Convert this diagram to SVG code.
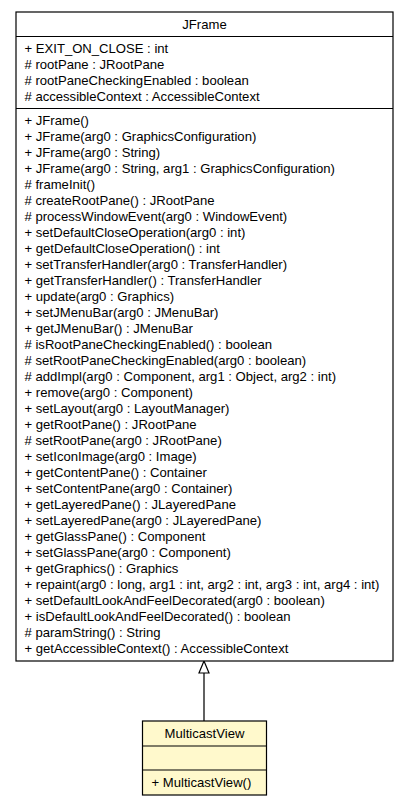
<svg xmlns="http://www.w3.org/2000/svg" width="408" height="805" viewBox="0 0 408 805">
<style>
text{font-family:"Liberation Sans",Arial,Helvetica,sans-serif;font-size:13.1px;fill:#000}
.c{text-anchor:middle}
.box{stroke:#000;stroke-width:1.2}
.sep{stroke:#000;stroke-width:1.2}
.edge{stroke:#3a3a3a;stroke-width:1.6;fill:none}
</style>
<rect width="408" height="805" fill="#fff"/>
<g id="connectors">
<line class="edge" x1="204" y1="721" x2="204" y2="673"/>
<polygon points="204,661 199,673 209,673" fill="#fff" stroke="#000" stroke-width="1.2"/>
</g>
<g id="JFrame">
<rect class="box" x="16" y="12" width="377" height="649" fill="#fff"/>
<line class="sep" x1="16" y1="36.5" x2="393" y2="36.5"/>
<line class="sep" x1="16" y1="108.5" x2="393" y2="108.5"/>
<text class="c" x="204.5" y="28.8">JFrame</text>
<text x="24.5" y="52.8">+ EXIT_ON_CLOSE : int</text>
<text x="24.5" y="68.8"># rootPane : JRootPane</text>
<text x="24.5" y="84.8"># rootPaneCheckingEnabled : boolean</text>
<text x="24.5" y="100.8"># accessibleContext : AccessibleContext</text>
<text x="24.5" y="124.8">+ JFrame()</text>
<text x="24.5" y="140.8">+ JFrame(arg0 : GraphicsConfiguration)</text>
<text x="24.5" y="156.8">+ JFrame(arg0 : String)</text>
<text x="24.5" y="172.8">+ JFrame(arg0 : String, arg1 : GraphicsConfiguration)</text>
<text x="24.5" y="188.8"># frameInit()</text>
<text x="24.5" y="204.8"># createRootPane() : JRootPane</text>
<text x="24.5" y="220.8"># processWindowEvent(arg0 : WindowEvent)</text>
<text x="24.5" y="236.8">+ setDefaultCloseOperation(arg0 : int)</text>
<text x="24.5" y="252.8">+ getDefaultCloseOperation() : int</text>
<text x="24.5" y="268.8">+ setTransferHandler(arg0 : TransferHandler)</text>
<text x="24.5" y="284.8">+ getTransferHandler() : TransferHandler</text>
<text x="24.5" y="300.8">+ update(arg0 : Graphics)</text>
<text x="24.5" y="316.8">+ setJMenuBar(arg0 : JMenuBar)</text>
<text x="24.5" y="332.8">+ getJMenuBar() : JMenuBar</text>
<text x="24.5" y="348.8"># isRootPaneCheckingEnabled() : boolean</text>
<text x="24.5" y="364.8"># setRootPaneCheckingEnabled(arg0 : boolean)</text>
<text x="24.5" y="380.8"># addImpl(arg0 : Component, arg1 : Object, arg2 : int)</text>
<text x="24.5" y="396.8">+ remove(arg0 : Component)</text>
<text x="24.5" y="412.8">+ setLayout(arg0 : LayoutManager)</text>
<text x="24.5" y="428.8">+ getRootPane() : JRootPane</text>
<text x="24.5" y="444.8"># setRootPane(arg0 : JRootPane)</text>
<text x="24.5" y="460.8">+ setIconImage(arg0 : Image)</text>
<text x="24.5" y="476.8">+ getContentPane() : Container</text>
<text x="24.5" y="492.8">+ setContentPane(arg0 : Container)</text>
<text x="24.5" y="508.8">+ getLayeredPane() : JLayeredPane</text>
<text x="24.5" y="524.8">+ setLayeredPane(arg0 : JLayeredPane)</text>
<text x="24.5" y="540.8">+ getGlassPane() : Component</text>
<text x="24.5" y="556.8">+ setGlassPane(arg0 : Component)</text>
<text x="24.5" y="572.8">+ getGraphics() : Graphics</text>
<text x="24.5" y="588.8">+ repaint(arg0 : long, arg1 : int, arg2 : int, arg3 : int, arg4 : int)</text>
<text x="24.5" y="604.8">+ setDefaultLookAndFeelDecorated(arg0 : boolean)</text>
<text x="24.5" y="620.8">+ isDefaultLookAndFeelDecorated() : boolean</text>
<text x="24.5" y="636.8"># paramString() : String</text>
<text x="24.5" y="652.8">+ getAccessibleContext() : AccessibleContext</text>
</g>
<g id="MulticastView">
<rect class="box" x="142.5" y="721" width="124" height="74" fill="#fff9cc"/>
<line class="sep" x1="142.5" y1="746" x2="266.5" y2="746"/>
<line class="sep" x1="142.5" y1="770" x2="266.5" y2="770"/>
<text class="c" x="204.5" y="737.8">MulticastView</text>
<text x="151.5" y="786.8">+ MulticastView()</text>
</g>
</svg>
